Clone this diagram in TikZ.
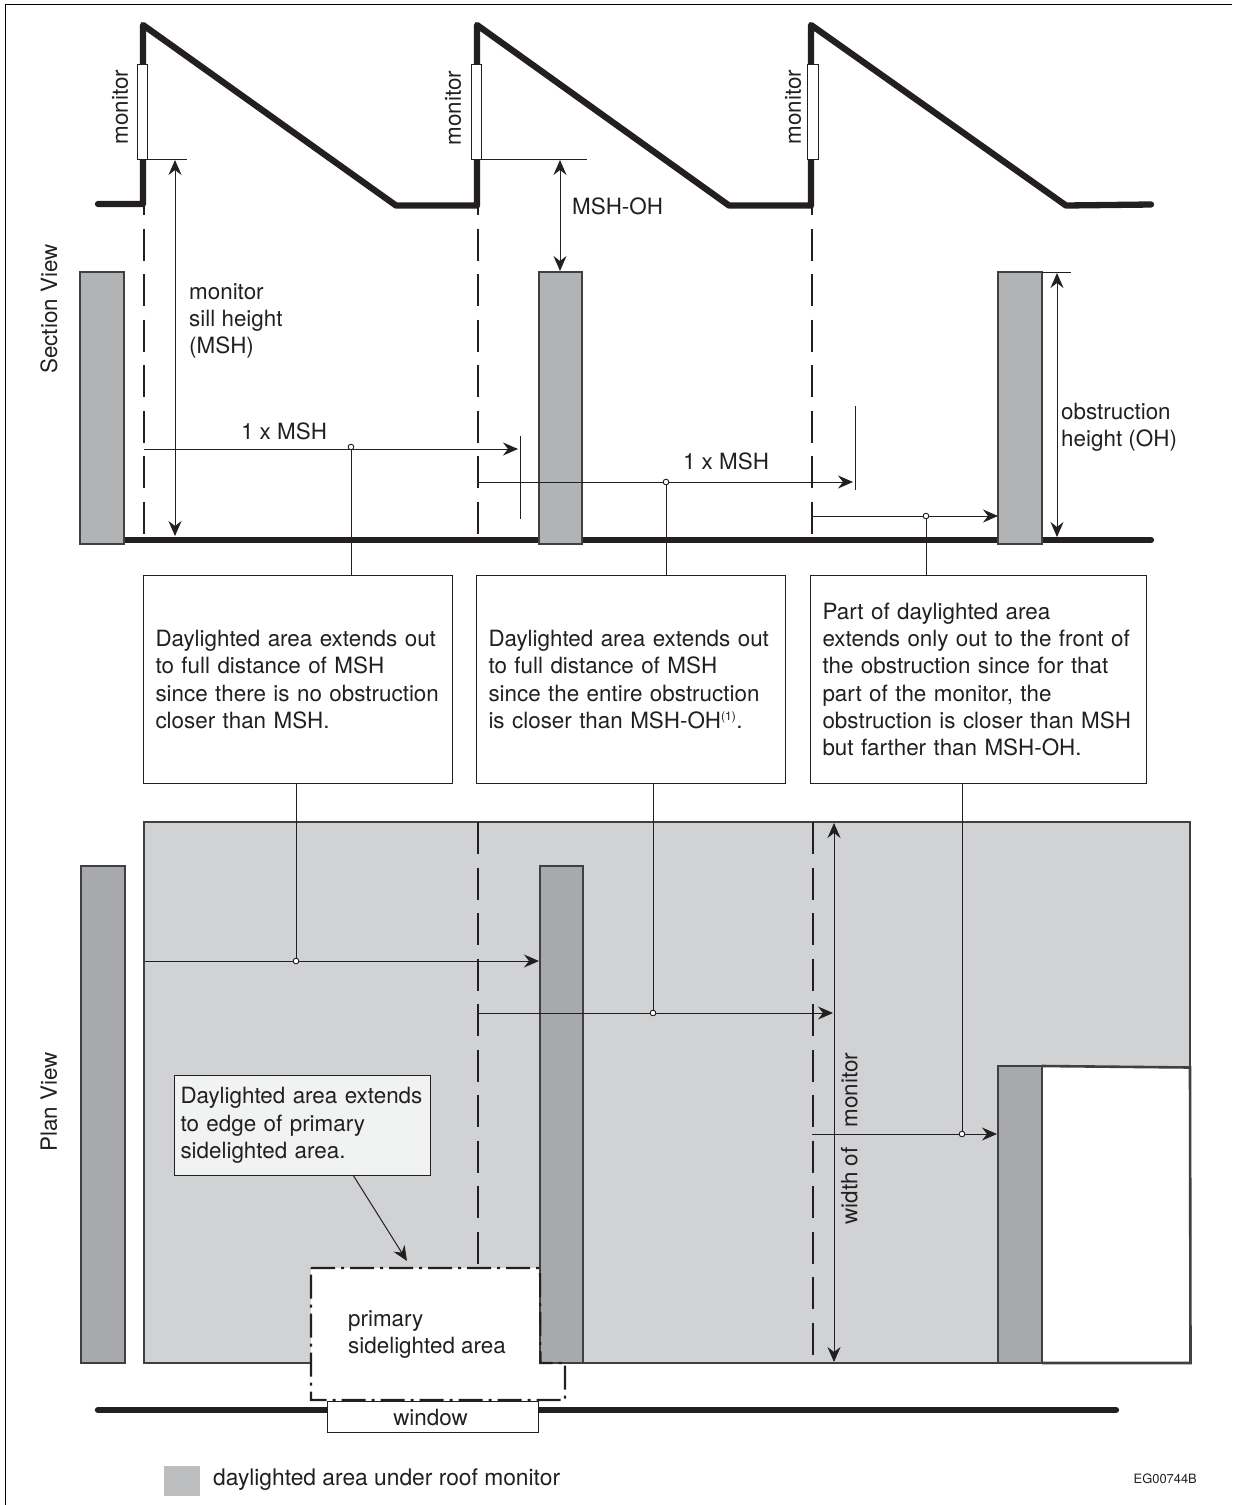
\documentclass[tikz,border=0pt]{standalone}
\usepackage{fontspec}
\setmainfont{TeX Gyre Heros}
\usetikzlibrary{arrows.meta}
\definecolor{ink}{HTML}{231F20}
\definecolor{obsSec}{HTML}{B2B3B5}
\definecolor{obsPlan}{HTML}{A7A9AC}
\definecolor{areaGrey}{HTML}{D1D2D4}
\definecolor{calloutFill}{HTML}{F1F2F2}
\definecolor{edgeGrey}{HTML}{404042}
\definecolor{legendGrey}{HTML}{BCBDBF}
\tikzset{
  every node/.style={text=ink,font=\fontsize{22.4}{27.3}\selectfont},
  heavy/.style={draw=ink,line width=6.3pt,line join=round,line cap=round},
  dashline/.style={draw=ink,line width=2.8pt,dash pattern=on 32pt off 13.5pt},
  thinline/.style={draw=ink,line width=1pt},
  tip/.style={-{Stealth[length=15pt,width=13pt,inset=5pt]}},
  tips/.style={{Stealth[length=15pt,width=13pt,inset=5pt]}-{Stealth[length=15pt,width=13pt,inset=5pt]}},
  leaderdot/.style={circle,draw=ink,line width=.8pt,fill=white,inner sep=0pt,minimum size=5.5pt},
  notebox/.style={draw=ink,line width=1pt,fill=white,align=left,inner xsep=12pt,inner ysep=0pt,minimum height=208pt,anchor=north west},
  obsA/.style={draw=edgeGrey,line width=1.4pt,fill=obsSec},
  obsB/.style={draw=edgeGrey,line width=1.6pt,fill=obsPlan},
  monwin/.style={draw=ink,line width=1pt,fill=white},
  label/.style={inner sep=0pt},
  sidelabel/.style={inner sep=0pt,rotate=90},
}
\begin{document}
\begin{tikzpicture}[x=1pt,y=-1pt]
\useasboundingbox (0,0) rectangle (1232,1505);
% page frame: top and left rules only
\draw[black,line width=1.8pt] (1232,4.5) -- (5.5,4.5) -- (5.5,1505);

% section roof
\draw[heavy] (98,204) -- (143,204) -- (143,25) -- (396,205.5) -- (477,205.5) -- (477,25) -- (729,205.5) -- (811,205.5) -- (811,25) -- (1066,205.5) -- (1151,204.5);
\foreach \x in {137,471,807.5}{\draw[monwin] (\x,64) rectangle ++(10.5,95);}
\node[sidelabel] (monA) at (120,107) {monitor};
\node[sidelabel] (monB) at (453,108) {monitor};
\node[sidelabel] (monC) at (793,107) {monitor};

% section obstructions and floor
\node[sidelabel] (secview) at (49,309) {Section View};
\draw[heavy] (124,540) -- (1151,540);
\draw[obsA] (80,272) rectangle (124,544);
\draw[obsA] (539,272) rectangle (582,544);
\draw[obsA] (998,272) rectangle (1042,544);

% section dashed lines
\coordinate (dA1) at (144,206);\coordinate (dA2) at (144,535);
\coordinate (dB1) at (478,206);\coordinate (dB2) at (478,535);
\coordinate (dC1) at (812,206);\coordinate (dC2) at (812,535);
\draw[dashline,dash phase=23pt] (dA1) -- (dA2);
\draw[dashline,dash phase=23pt] (dB1) -- (dB2);
\draw[dashline,dash phase=23pt] (dC1) -- (dC2);

% dimension lines
\coordinate (sillA1) at (147,159);\coordinate (sillA2) at (187,159);
\coordinate (sillB1) at (481,159);\coordinate (sillB2) at (587,159);
\coordinate (topC1) at (1042,272);\coordinate (topC2) at (1071,272);
\draw[thinline] (sillA1) -- (sillA2);
\draw[thinline] (sillB1) -- (sillB2);
\draw[thinline] (topC1) -- (topC2);
\coordinate (msh1) at (175,160);\coordinate (msh2) at (175,536);
\coordinate (mo1) at (560,160);\coordinate (mo2) at (560,271);
\coordinate (oh1) at (1057,273);\coordinate (oh2) at (1057,537);
\draw[thinline,tips] (msh1) -- (msh2);
\draw[thinline,tips] (mo1) -- (mo2);
\draw[thinline,tips] (oh1) -- (oh2);
\node[label,anchor=north west,align=left] (mshlab) at (189,283) {monitor\\sill height\\(MSH)};
\node[label,anchor=west] (molab) at (572,206) {MSH-OH};
\node[label,anchor=north west,align=left] (ohlab) at (1061,403) {obstruction\\height (OH)};

% notes
\node[notebox,text width=285pt] (boxA) at (143,575) {Daylighted area extends out\\to full distance of MSH\\since there is no obstruction\\closer than MSH.};
\node[notebox,text width=285pt] (boxB) at (476,575) {Daylighted area extends out\\to full distance of MSH\\since the entire obstruction\\is closer than MSH-OH\textsuperscript{\fontsize{12}{12}\selectfont(1)}.};
\node[notebox,text width=312pt] (boxC) at (810,575) {Part of daylighted area\\extends only out to the front of\\the obstruction since for that\\part of the monitor, the\\obstruction is closer than MSH\\but farther than MSH-OH.};

% section runs
\node[leaderdot] (sd1) at (351,447) {};
\node[leaderdot] (sd2) at (666,482) {};
\node[leaderdot] (sd3) at (926,516) {};
\coordinate (r1a) at (144,449);\coordinate (r1b) at (518,449);
\coordinate (r2a) at (478,482);\coordinate (r2b) at (853,482);
\coordinate (r3a) at (812,516);\coordinate (r3b) at (998,516);
\draw[thinline,tip] (r1a) -- (r1b);
\draw[thinline,tip] (r2a) -- (r2b);
\draw[thinline,tip] (r3a) -- (r3b);
\coordinate (t1a) at (520,436);\coordinate (t1b) at (520,519);
\coordinate (t2a) at (855,406);\coordinate (t2b) at (855,490);
\draw[thinline] (t1a) -- (t1b);
\draw[thinline] (t2a) -- (t2b);
\draw[thinline] (boxA.north -| sd1) -- (sd1);
\draw[thinline] (boxB.north -| sd2) -- (sd2);
\draw[thinline] (boxC.north -| sd3) -- (sd3);
\node[leaderdot] at (sd1) {};
\node[leaderdot] at (sd2) {};
\node[leaderdot] at (sd3) {};
\node[label] (lab1x) at (284,431) {1 x MSH};
\node[label] (lab2x) at (726,461) {1 x MSH};

% plan
\node[sidelabel] (planview) at (49,1102) {Plan View};
\fill[areaGrey] (144,822) rectangle (1190,1363);
\fill[white] (1042,1067) rectangle (1190,1363);
\draw[edgeGrey,line width=2.6pt] (1042,1066) -- (1190,1067.5) -- (1190.5,1363) -- (1042,1363);
\draw[edgeGrey,line width=2.6pt] (1190,1067) -- (1190,822) -- (144,822) -- (144,1363) -- (311,1363);
\draw[edgeGrey,line width=2.6pt] (565,1363) -- (998,1363);
\draw[obsB] (81,866) rectangle (125,1363);
\draw[obsB] (998,1066) rectangle (1042,1363);
\draw[dashline] (478,822) -- (478,1268);
\draw[dashline] (813,822) -- (813,1363);

% primary sidelighted area
\fill[white] (311,1268) -- (540,1268) -- (540,1363) -- (565,1363) -- (565,1400) -- (311,1400) -- cycle;
\draw[obsB] (540,866) rectangle (583,1363);
\draw[ink,line width=2.1pt,dash pattern=on 24pt off 6pt on 3pt off 6pt] (311,1268) -- (540,1268) -- (540.5,1363) -- (565,1363) -- (565,1400) -- (311,1400) -- cycle;
\node[label,anchor=north west,align=left] (psa) at (348,1310) {primary\\sidelighted area};

% window wall
\draw[heavy] (98,1410) -- (1116,1410);
\node[draw=ink,line width=1pt,fill=white,minimum width=211pt,minimum height=31pt,inner sep=0pt,anchor=north west] (win) at (327,1401) {\hspace{-5pt}window};

% plan callout
\node[draw=ink,line width=1pt,fill=calloutFill,align=left,inner xsep=6pt,inner ysep=0pt,text width=244pt,minimum height=100pt,anchor=north west] (callout) at (174,1075) {Daylighted area extends\\to edge of primary\\sidelighted area.};
\coordinate (calloutTip) at (407,1261);
\coordinate (calloutBase) at (353,1175);
\draw[thinline,tip] (calloutBase) -- (calloutTip);

% plan runs
\node[leaderdot] (pd1) at (296,961) {};
\node[leaderdot] (pd2) at (653,1013) {};
\node[leaderdot] (pd3) at (962,1134) {};
\coordinate (p1a) at (145,961);\coordinate (p1b) at (539,961);
\coordinate (p2a) at (479,1013);\coordinate (p2b) at (833,1013);
\coordinate (p3a) at (812,1134);\coordinate (p3b) at (997,1134);
\coordinate (w1) at (834,823);\coordinate (w2) at (834,1362);
\draw[thinline,tips] (w1) -- (w2);
\draw[thinline,tip] (p1a) -- (p1b);
\draw[thinline,tip] (p2a) -- (p2b);
\draw[thinline,tip] (p3a) -- (p3b);
\draw[thinline] (boxA.south -| pd1) -- (pd1);
\draw[thinline] (boxB.south -| pd2) -- (pd2);
\draw[thinline] (boxC.south -| pd3) -- (pd3);
\node[leaderdot] at (pd1) {};
\node[leaderdot] at (pd2) {};
\node[leaderdot] at (pd3) {};
\node[sidelabel,anchor=south] (wm) at (858,1090) {monitor};
\node[sidelabel,anchor=south] (wo) at (858,1186) {width of};

% legend
\fill[legendGrey] (164,1466) rectangle (200,1496);
\node[label,anchor=west,font=\fontsize{22.8}{27.3}\selectfont] (legend) at (213,1480) {daylighted area under roof monitor};
\node[label,anchor=east,font=\fontsize{12.9}{14}\selectfont] (code) at (1197,1479) {EG00744B};
\end{tikzpicture}
\end{document}
